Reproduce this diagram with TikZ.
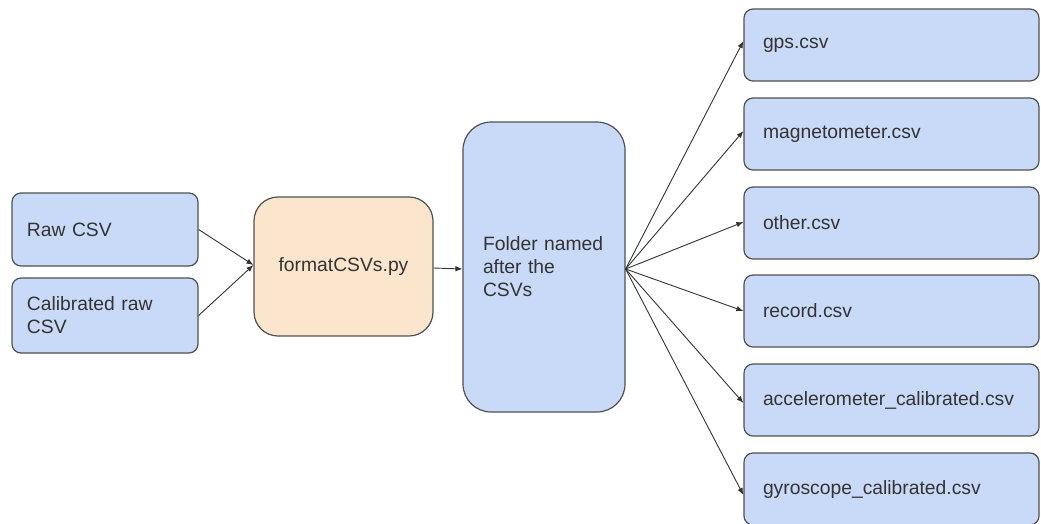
\documentclass[tikz,border=0pt]{standalone}
\usepackage{fontspec}
\setmainfont{Liberation Sans}
\usetikzlibrary{arrows.meta}
\definecolor{boxblue}{HTML}{C9DAF8}
\definecolor{boxpeach}{HTML}{FCE5CD}
\definecolor{edgegray}{HTML}{505050}
\definecolor{txtgray}{HTML}{333333}
\tikzset{
  x=1pt, y=-1pt,
  base/.style={draw=edgegray, line width=1.2pt, rectangle, text=txtgray,
    font=\fontsize{19.3}{23}\selectfont, align=left, inner ysep=0pt},
  leftbox/.style={base, fill=boxblue, rounded corners=9pt, minimum height=73pt,
    inner xsep=15pt, text width=156pt},
  outbox/.style={base, fill=boxblue, rounded corners=9pt, minimum height=72pt,
    inner xsep=19pt, text width=257pt},
  procbox/.style={base, fill=boxpeach, rounded corners=24pt, minimum height=139pt,
    minimum width=179pt, align=center},
  folderbox/.style={base, fill=boxblue, rounded corners=28pt, minimum height=290pt,
    inner xsep=20pt, text width=122pt},
  conn/.style={draw=black!80, line width=0.9pt, -{Latex[length=7pt,width=5.5pt]}}
}
\begin{document}
\begin{tikzpicture}
\useasboundingbox (0,0) rectangle (1041,523);
\node[leftbox] (raw) at (105,229.5) {Raw CSV};
\node[leftbox, minimum height=75pt] (cal) at (105,315.5) {Calibrated raw CSV};
\node[procbox] (fmt) at (343.5,266.5) {formatCSVs.py};
\node[folderbox] (folder) at (544,267) {Folder named after the CSVs};
\node[outbox] (gps) at (891.5,45) {gps.csv};
\node[outbox] (mag) at (891.5,134) {magnetometer.csv};
\node[outbox] (oth) at (891.5,223) {other.csv};
\node[outbox] (rec) at (891.5,311) {record.csv};
\node[outbox] (acc) at (891.5,400) {accelerometer\_calibrated.csv};
\node[outbox] (gyr) at (891.5,489) {gyroscope\_calibrated.csv};
\draw[conn] (raw.east) -- ([yshift=1.5pt]fmt.west);
\draw[conn] (cal.east) -- ([yshift=1.5pt]fmt.west);
\draw[conn] ([yshift=-1.5pt]fmt.east) -- ([yshift=-2pt]folder.west);
\coordinate (src) at ([yshift=-2pt]folder.east);
\draw[conn] (src) -- ([yshift=4pt]gps.west);
\draw[conn] (src) -- ([yshift=3pt]mag.west);
\draw[conn] (src) -- ([yshift=1pt]oth.west);
\draw[conn] (src) -- (rec.west);
\draw[conn] (src) -- ([yshift=-3pt]acc.west);
\draw[conn] (src) -- ([yshift=-6pt]gyr.west);
\end{tikzpicture}
\end{document}
